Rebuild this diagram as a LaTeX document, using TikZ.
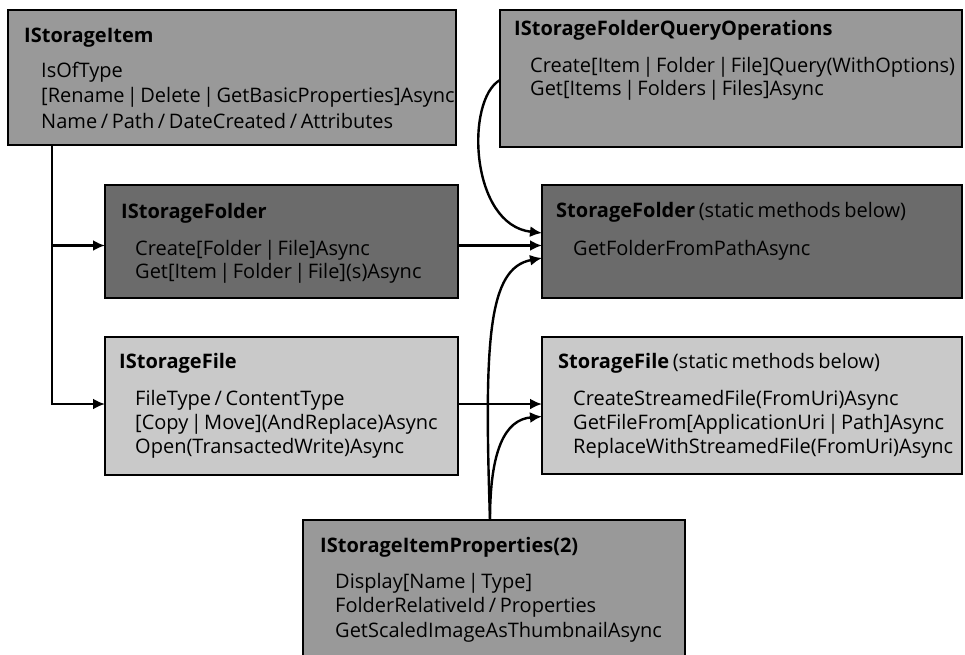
\documentclass[tikz,border=0pt]{standalone}
\usepackage{fontspec}
\setmainfont{Open Sans}[WordSpace=0.7]
\usetikzlibrary{arrows.meta,calc}
\definecolor{midgray}{gray}{0.60}
\definecolor{deepgray}{gray}{0.42}
\definecolor{palegray}{gray}{0.79}
% tight vertical bar between alternatives
\newcommand{\sepbar}{\hspace{2.4pt}|\hspace{2.4pt}}
\tikzset{
  box/.style={draw=black, line width=2.4pt, anchor=north west, inner sep=0pt, outer sep=0pt},
  ttl/.style={anchor=base west, inner sep=0pt, font=\fontsize{20}{24}\selectfont\bfseries},
  txt/.style={anchor=base west, inner sep=0pt, font=\fontsize{20}{24}\selectfont},
  conn/.style={line width=2.4pt, -{Latex[length=12pt,width=11pt]}},
}
\begin{document}
\begin{tikzpicture}[x=1pt,y=-1pt]
\useasboundingbox (0,0) rectangle (965,654);

% interface and class boxes
\node[box, fill=midgray,  minimum width=448pt, minimum height=135pt] (item)   at (8,10)   {};
\node[box, fill=midgray,  minimum width=462pt, minimum height=137pt] (query)  at (500,10)  {};
\node[box, fill=deepgray, minimum width=353pt, minimum height=113pt] (ifolder) at (105,185) {};
\node[box, fill=deepgray, minimum width=420pt, minimum height=113pt] (sfolder) at (542,185) {};
\node[box, fill=palegray, minimum width=353pt, minimum height=138pt] (ifile)  at (105,337) {};
\node[box, fill=palegray, minimum width=420pt, minimum height=137pt] (sfile)  at (542,337) {};
\node[box, fill=midgray,  minimum width=382pt, minimum height=150pt] (props)  at (303,520) {};

% IStorageItem
\node[ttl] (item-t) at (24,42) {IStorageItem};
\node[txt] (item-1) at (41,77)  {IsOfType};
\node[txt] (item-2) at (41,102.5) {[Rename\sepbar Delete\sepbar GetBasicProperties]Async};
\node[txt] (item-3) at (41,128) {Name / Path / DateCreated / Attributes};

% IStorageFolderQueryOperations
\node[ttl] (query-t) at (514,35) {IStorageFolderQueryOperations};
\node[txt] (query-1) at (530,72) {Create[Item\sepbar Folder\sepbar File]Query(WithOptions)};
\node[txt] (query-2) at (530,95) {Get[Items\sepbar Folders\sepbar Files]Async};

% IStorageFolder
\node[ttl] (ifolder-t) at (121,218) {IStorageFolder};
\node[txt] (ifolder-1) at (135,255) {Create[Folder\sepbar File]Async};
\node[txt] (ifolder-2) at (135,278) {Get[Item\sepbar Folder\sepbar File](s)Async};

% StorageFolder
\node[ttl] (sfolder-t) at (556,217) {StorageFolder \mdseries(static methods below)};
\node[txt] (sfolder-1) at (573,255) {GetFolderFromPathAsync};

% IStorageFile
\node[ttl] (ifile-t) at (119,368) {IStorageFile};
\node[txt] (ifile-1) at (135,405) {FileType / ContentType};
\node[txt] (ifile-2) at (135,429) {[Copy\sepbar Move](AndReplace)Async};
\node[txt] (ifile-3) at (135,453) {Open(TransactedWrite)Async};

% StorageFile
\node[ttl] (sfile-t) at (558,368) {StorageFile \mdseries(static methods below)};
\node[txt] (sfile-1) at (573,405) {CreateStreamedFile(FromUri)Async};
\node[txt] (sfile-2) at (573,429) {GetFileFrom[ApplicationUri\sepbar Path]Async};
\node[txt] (sfile-3) at (573,453) {ReplaceWithStreamedFile(FromUri)Async};

% IStorageItemProperties(2)
\node[ttl] (props-t) at (320,552) {IStorageItemProperties(2)};
\node[txt] (props-1) at (335,588) {Display[Name\sepbar Type]};
\node[txt] (props-2) at (335,612) {FolderRelativeId / Properties};
\node[txt] (props-3) at (335,637) {GetScaledImageAsThumbnailAsync};

% inheritance trunk from IStorageItem
\coordinate (trunk) at ([xshift=44pt]item.south west);
\draw[conn] (trunk) |- ([yshift=-4pt]ifolder.west);
\draw[conn] (trunk) |- ([yshift=2pt]ifile.west);

% interface to class links
\draw[conn] ([yshift=-4pt]ifolder.east) -- ([yshift=-4pt]sfolder.west);
\draw[conn] ([yshift=2pt]ifile.east) -- ([yshift=2pt]ifile.east -| sfile.west);

% query operations into StorageFolder
\coordinate (q0) at ([yshift=-1.5pt]query.west);
\draw[conn] (q0) .. controls ++(-35,20) and ++(-72,-8) .. ([yshift=8.5pt]sfolder.west);

% properties into StorageFolder and StorageFile
\coordinate (p0) at ([xshift=-4pt]props.north);
\draw[conn] (p0) .. controls ++(-6,-180) and ++(-54,10) .. ([yshift=-16.5pt]sfolder.west);
\draw[conn] (p0) .. controls ++(0,-70) and ++(-37,3) .. ([yshift=-11pt]sfile.west);
\end{tikzpicture}
\end{document}
